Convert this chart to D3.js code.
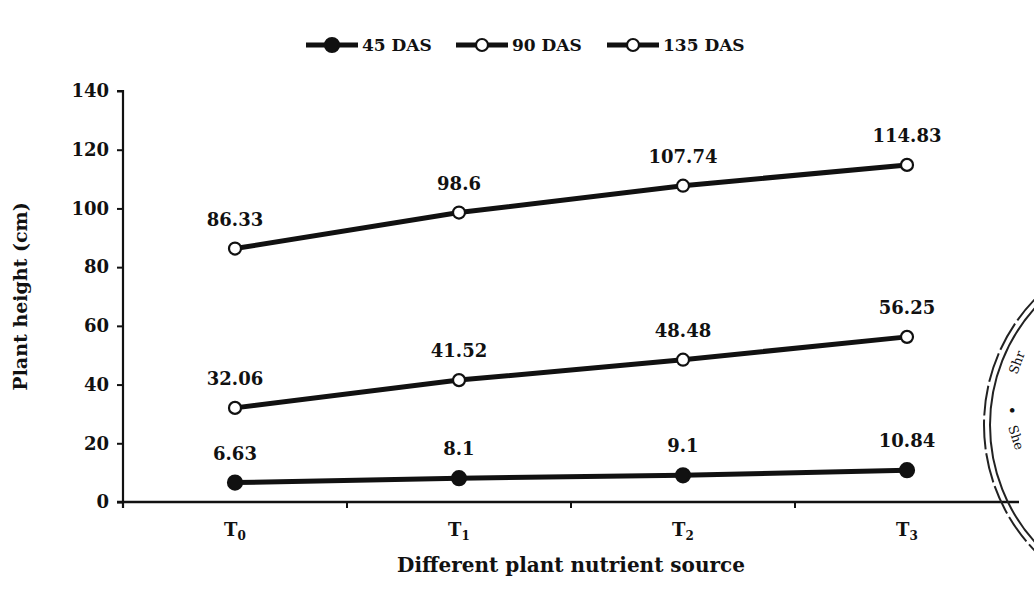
<!DOCTYPE html>
<html>
<head>
<meta charset="utf-8">
<script src="https://cdn.jsdelivr.net/npm/d3@7"></script>
<style>
  body { margin: 0; background: #fff; }
  text { font-family: "DejaVu Serif", "Liberation Serif", serif; font-weight: bold; fill: #111; }
</style>
</head>
<body>
<script>
// categories and series
var categories = ["0", "1", "2", "3"];      // subscripts of T
var seriesNames = ["45 DAS", "90 DAS", "135 DAS"];
var das45  = [6.63, 8.1, 9.1, 10.84];
var das90  = [32.06, 41.52, 48.48, 56.25];
var das135 = [86.33, 98.6, 107.74, 114.83];
var yTicks = [0, 20, 40, 60, 80, 100, 120, 140];

var w = 1034, h = 605;
var mLeft = 123, mRight = 1019, mTop = 91, mBottom = 502;

var svg = d3.select("body").append("svg")
  .attr("width", w)
  .attr("height", h);

var x = d3.scaleBand().domain(categories).range([mLeft, mRight]);
var y = d3.scaleLinear().domain([0, 140]).range([mBottom, mTop]);

// y axis
var yAxis = svg.append("g")
  .attr("transform", "translate(" + mLeft + ",0)")
  .call(d3.axisLeft(y).tickValues(yTicks).tickSize(6).tickPadding(8));
yAxis.select(".domain").attr("stroke", "#111").attr("stroke-width", 2.2)
  .attr("d", "M-6," + mTop + "H0V" + (mBottom + 6));
yAxis.selectAll(".tick line").attr("stroke", "#111").attr("stroke-width", 2);
yAxis.selectAll(".tick text").style("font-size", "18px").attr("fill", "#111");

// x axis: ticks on band edges
var xAxis = svg.append("g")
  .attr("transform", "translate(0," + mBottom + ")");
xAxis.append("line")
  .attr("x1", mLeft - 6).attr("x2", mRight)
  .attr("stroke", "#111").attr("stroke-width", 2.5);
xAxis.selectAll(".edge").data(categories.slice(1))
  .enter().append("line")
  .attr("x1", function(d){ return x(d); })
  .attr("x2", function(d){ return x(d); })
  .attr("y1", 0).attr("y2", 6)
  .attr("stroke", "#111").attr("stroke-width", 2);
var xl = xAxis.selectAll(".lab").data(categories)
  .enter().append("text")
  .attr("x", function(d){ return x(d) + x.bandwidth()/2; })
  .attr("y", 34)
  .attr("text-anchor", "middle")
  .style("font-size", "18px");
xl.append("tspan").text("T");
xl.append("tspan").attr("dy", 4).style("font-size", "12px").text(function(d){ return d; });

// axis titles
svg.append("text")
  .attr("transform", "translate(27," + ((mTop + mBottom)/2) + ") rotate(-90)")
  .attr("text-anchor", "middle")
  .style("font-size", "19px")
  .text("Plant height (cm)");
svg.append("text")
  .attr("x", (mLeft + mRight)/2).attr("y", 572)
  .attr("text-anchor", "middle")
  .style("font-size", "20px")
  .text("Different plant nutrient source");

// series
var series = [
  { name: seriesNames[0], values: das45,  filled: true },
  { name: seriesNames[1], values: das90,  filled: false },
  { name: seriesNames[2], values: das135, filled: false }
];

var cx = function(i){ return x(categories[i]) + x.bandwidth()/2; };
var line = d3.line()
  .x(function(d, i){ return cx(i); })
  .y(function(d){ return y(d); });

series.forEach(function(s){
  var g = svg.append("g");
  g.append("path")
    .datum(s.values)
    .attr("d", line)
    .attr("fill", "none")
    .attr("stroke", "#111")
    .attr("stroke-width", 5);
  g.selectAll("circle").data(s.values)
    .enter().append("circle")
    .attr("cx", function(d, i){ return cx(i); })
    .attr("cy", function(d){ return y(d); })
    .attr("r", s.filled ? 7 : 6)
    .attr("fill", s.filled ? "#111" : "#fff")
    .attr("stroke", "#111")
    .attr("stroke-width", 2.2);
  g.selectAll("text").data(s.values)
    .enter().append("text")
    .attr("x", function(d, i){ return cx(i); })
    .attr("y", function(d){ return y(d) - 23; })
    .attr("text-anchor", "middle")
    .style("font-size", "18px")
    .text(function(d){ return d; });
});

// legend
var legendX = [306, 456, 607];
var leg = svg.selectAll(".leg").data(series)
  .enter().append("g")
  .attr("transform", function(d, i){ return "translate(" + legendX[i] + ",45)"; });
leg.append("line")
  .attr("x1", 0).attr("x2", 52)
  .attr("stroke", "#111").attr("stroke-width", 5);
leg.append("circle")
  .attr("cx", 26).attr("r", function(d){ return d.filled ? 7 : 6; })
  .attr("fill", function(d){ return d.filled ? "#111" : "#fff"; })
  .attr("stroke", "#111").attr("stroke-width", 2.2);
leg.append("text")
  .attr("x", 56).attr("y", 6)
  .style("font-size", "17px")
  .text(function(d){ return d.name; });

// partial stamp at the right edge
var stamp = svg.append("g").attr("transform", "translate(1165,425)");
stamp.append("circle").attr("r", 181).attr("fill", "none")
  .attr("stroke", "#222").attr("stroke-width", 2).attr("stroke-dasharray", "30,4");
stamp.append("circle").attr("r", 175).attr("fill", "none")
  .attr("stroke", "#222").attr("stroke-width", 2);
stamp.append("text")
  .attr("transform", "translate(-148,-50) rotate(-70)")
  .style("font-size", "13px").style("font-weight", "normal")
  .text("Shr");
stamp.append("text")
  .attr("transform", "translate(-157,-10)")
  .style("font-size", "13px")
  .text("•");
stamp.append("text")
  .attr("transform", "translate(-157,2) rotate(72)")
  .style("font-size", "13px").style("font-weight", "normal")
  .text("She");
</script>
</body>
</html>
